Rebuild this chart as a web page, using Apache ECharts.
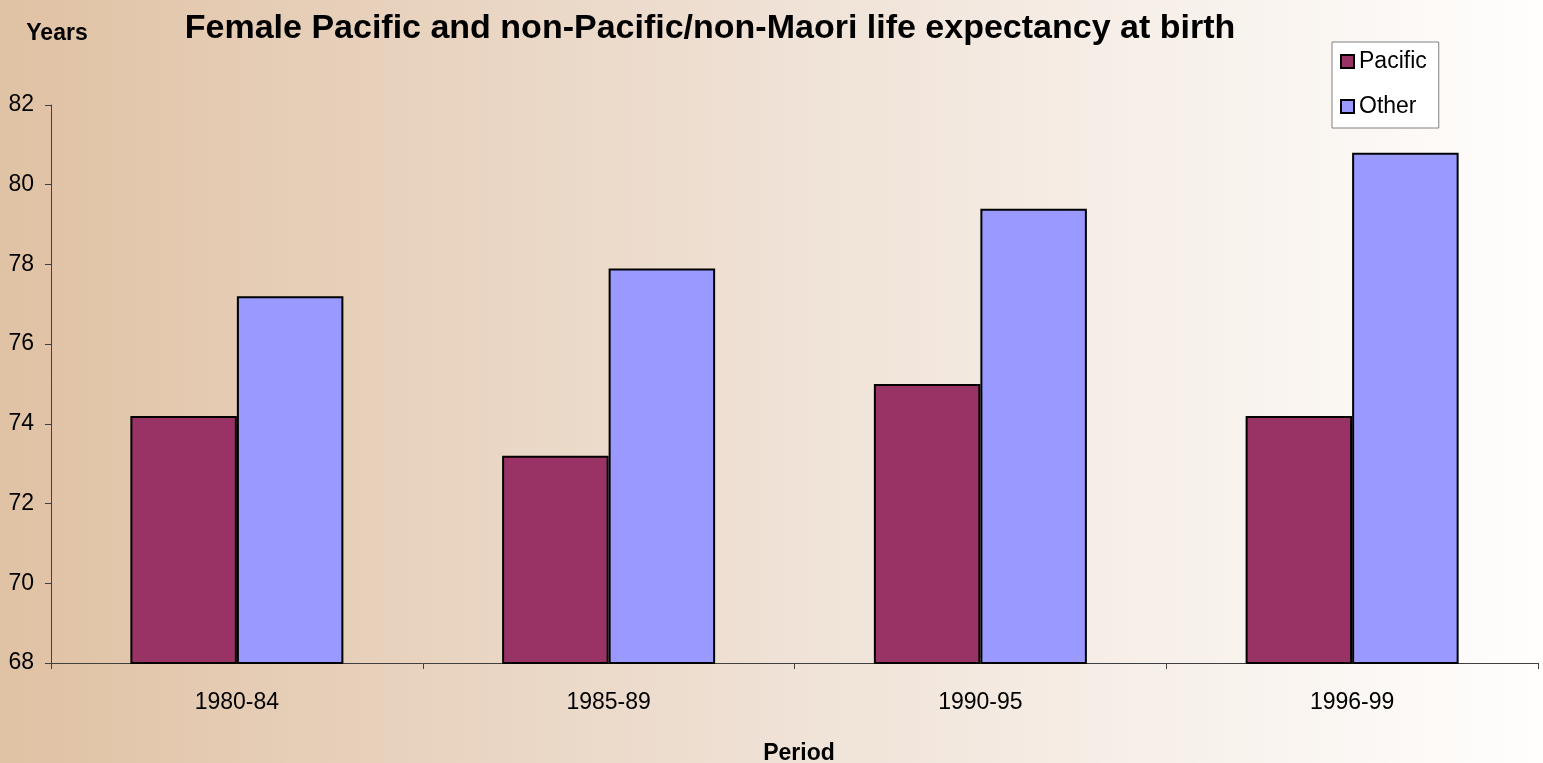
<!DOCTYPE html>
<html>
	<head>
		<meta charset="utf-8">
		<title>Female Pacific life expectancy</title>
		<script src="https://cdn.jsdelivr.net/npm/echarts@6/dist/echarts.min.js"></script>
		<style>
			html, body { margin: 0; padding: 0; }
		</style>
	</head>
	<body>
		<div id="main" style="width: 1543px;height:763px;"></div>
		<script type="text/javascript">
			// data
			var periods = ['1980-84', '1985-89', '1990-95', '1996-99'];
			var pacific = [74.2, 73.2, 75.0, 74.2];
			var other = [77.2, 77.9, 79.4, 80.8];
			var yMin = 68, yMax = 82, yStep = 2;

			var font = '"Liberation Sans", Arial, sans-serif';
			var myChart = echarts.init(document.getElementById('main'));

			var option = {
				backgroundColor: {
					type: 'linear',
					x: 0, y: 0, x2: 1, y2: 0,
					colorStops: [
						{ offset: 0, color: '#e0c2a4' },
						{ offset: 0.5, color: '#efe1d5' },
						{ offset: 1, color: '#fffefd' }
					]
				},
				textStyle: { fontFamily: font },
				title: [{
					text: 'Female Pacific and non-Pacific/non-Maori life expectancy at birth',
					left: 705,
					textAlign: 'center',
					top: 7,
					textStyle: { fontSize: 34, fontWeight: 'bold', color: '#000', fontFamily: font }
				}, {
					text: 'Years',
					left: 52,
					textAlign: 'center',
					top: 17,
					textStyle: { fontSize: 23, fontWeight: 'bold', color: '#000', fontFamily: font }
				}, {
					text: 'Period',
					left: 794,
					textAlign: 'center',
					top: 737,
					textStyle: { fontSize: 23, fontWeight: 'bold', color: '#000', fontFamily: font }
				}],
				legend: {
					orient: 'vertical',
					left: 1332,
					top: 42,
					padding: [8, 12, 10, 8],
					itemGap: 22,
					itemWidth: 13,
					itemHeight: 13,
					icon: 'rect',
					backgroundColor: '#ffffff',
					borderColor: '#808080',
					borderWidth: 1,
					textStyle: { fontSize: 23, color: '#000', fontFamily: font },
					data: ['Pacific', 'Other']
				},
				grid: {
					left: 51,
					right: 5,
					top: 105,
					bottom: 100,
					containLabel: false
				},
				xAxis: {
					type: 'category',
					data: periods,
					axisLine: { lineStyle: { color: '#404040', width: 1 } },
					axisTick: { show: true, length: 6, lineStyle: { color: '#404040' } },
					axisLabel: { fontSize: 23, color: '#000', margin: 28 },
					splitLine: { show: false }
				},
				yAxis: {
					type: 'value',
					min: yMin,
					max: yMax,
					interval: yStep,
					axisLine: { show: true, lineStyle: { color: '#404040', width: 1 } },
					axisTick: { show: true, length: 6, lineStyle: { color: '#404040' } },
					axisLabel: { fontSize: 23, color: '#000', margin: 17 },
					splitLine: { show: false }
				},
				series: [{
					name: 'Pacific',
					type: 'bar',
					barGap: '0%',
					barCategoryGap: '42.7%',
					itemStyle: { color: '#993366', borderColor: '#000', borderWidth: 2 },
					data: pacific
				}, {
					name: 'Other',
					type: 'bar',
					itemStyle: { color: '#9999ff', borderColor: '#000', borderWidth: 2 },
					data: other
				}]
			};
			myChart.setOption(option);
		</script>
	</body>
</html>
